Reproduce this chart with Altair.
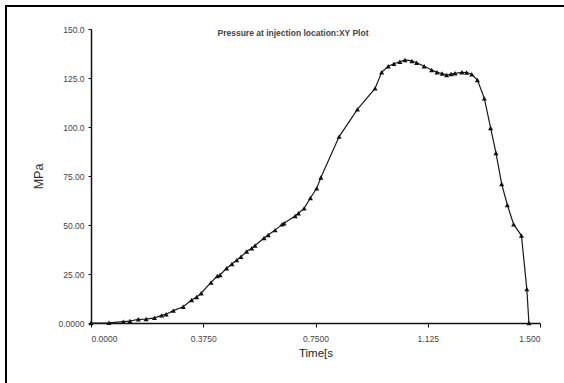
import altair as alt
import pandas as pd

time_s = [0.000, 0.060, 0.108, 0.130, 0.158, 0.184, 0.212, 0.236, 0.251, 0.275,
          0.308, 0.336, 0.353, 0.368, 0.401, 0.422, 0.431, 0.453, 0.471, 0.487,
          0.501, 0.520, 0.537, 0.548, 0.578, 0.592, 0.615, 0.638, 0.645, 0.682,
          0.693, 0.712, 0.733, 0.754, 0.768, 0.829, 0.890, 0.949, 0.971, 0.993,
          1.012, 1.032, 1.049, 1.072, 1.088, 1.113, 1.138, 1.156, 1.173, 1.188,
          1.203, 1.216, 1.239, 1.255, 1.272, 1.291, 1.314, 1.335, 1.353, 1.372,
          1.391, 1.412, 1.438, 1.456, 1.463]
pressure = [0.0, 0.1, 0.7, 1.0, 1.9, 2.0, 2.6, 3.9, 4.5, 6.3,
            8.3, 11.7, 13.3, 15.2, 20.7, 24.0, 24.5, 27.9, 30.1, 32.1,
            33.8, 36.5, 38.1, 39.5, 43.4, 44.9, 47.4, 50.3, 50.9, 54.6,
            56.0, 58.5, 63.8, 68.7, 74.2, 95.1, 109.0, 119.7, 127.9, 131.0,
            132.3, 133.3, 134.2, 133.7, 132.8, 131.0, 129.1, 127.9, 127.3, 126.5,
            127.0, 127.4, 127.9, 127.8, 126.9, 124.0, 114.6, 99.5, 86.7, 70.9,
            60.2, 50.3, 44.6, 17.3, 0.0]

x_ticks = [0.0, 0.375, 0.75, 1.125, 1.5]
x_tick_labels = ["0.0000", "0.3750", "0.7500", "1.125", "1.500"]
y_ticks = [0, 25, 50, 75, 100, 125, 150]
y_tick_labels = ["0.0000", "25.00", "50.00", "75.00", "100.0", "125.0", "150.0"]
title_text = "Pressure at injection location:XY Plot"

df = pd.DataFrame({"t": time_s, "p": pressure})

def label_expr(vals, labels):
    parts = []
    for v, l in zip(vals, labels):
        parts.append(f"abs(datum.value - {v}) < 1e-6 ? '{l}'")
    return " : ".join(parts) + " : ''"

W, H = 449, 294
LEFT, TOP = 91, 29

xenc = alt.X("t:Q", scale=alt.Scale(domain=[0, 1.5], nice=False),
             axis=alt.Axis(values=x_ticks, labelExpr=label_expr(x_ticks, x_tick_labels),
                           title="Time[s", grid=False, domainColor="#111", domainWidth=1.5,
                           tickColor="#111", tickSize=4, labelFontSize=8.5, labelColor="#444",
                           labelPadding=7, titleFontSize=11.5, titleFontWeight="normal",
                           titleColor="#222", titlePadding=5, labelFont="Liberation Sans",
                           titleFont="Liberation Sans"))
yenc = alt.Y("p:Q", scale=alt.Scale(domain=[0, 150], nice=False),
             axis=alt.Axis(values=y_ticks, labelExpr=label_expr(y_ticks, y_tick_labels),
                           title="MPa", grid=False, domainColor="#111", domainWidth=1.5,
                           tickColor="#111", tickSize=3, labelFontSize=8.5, labelColor="#444",
                           labelPadding=4, titleFontSize=12.5, titleFontWeight="normal",
                           titleColor="#333", titlePadding=13, labelFont="Liberation Sans",
                           titleFont="Liberation Sans"))

line = alt.Chart(df).mark_line(color="#1a1a1a", strokeWidth=1.2).encode(x=xenc, y=yenc)
pts = alt.Chart(df).mark_point(shape="triangle-up", filled=True, color="#111",
                               size=26, opacity=1).encode(x="t:Q", y="p:Q")

title = alt.Chart(pd.DataFrame({"s": [title_text]})).mark_text(
    font="Liberation Sans", fontSize=8.5, fontWeight="bold", color="#444",
    baseline="middle", align="center").encode(
    text="s:N", x=alt.value(293 - LEFT), y=alt.value(33 - TOP))

frame_top = alt.Chart(pd.DataFrame({"a": [0]})).mark_rule(color="black", strokeWidth=2).encode(
    x=alt.value(5 - LEFT), x2=alt.value(564 - LEFT), y=alt.value(6 - TOP))
frame_left = alt.Chart(pd.DataFrame({"a": [0]})).mark_rule(color="black", strokeWidth=2).encode(
    x=alt.value(6 - LEFT), y=alt.value(5 - TOP), y2=alt.value(383 - TOP))

chart = alt.layer(line, pts, title, frame_top, frame_left).properties(
    width=W, height=H,
    autosize=alt.AutoSizeParams(type="none"),
    padding={"left": LEFT, "top": TOP, "right": 564 - LEFT - W, "bottom": 383 - TOP - H},
    background="white",
).configure_view(stroke=None)

chart.save("out.html", embed_options={"renderer": "svg", "actions": False})
